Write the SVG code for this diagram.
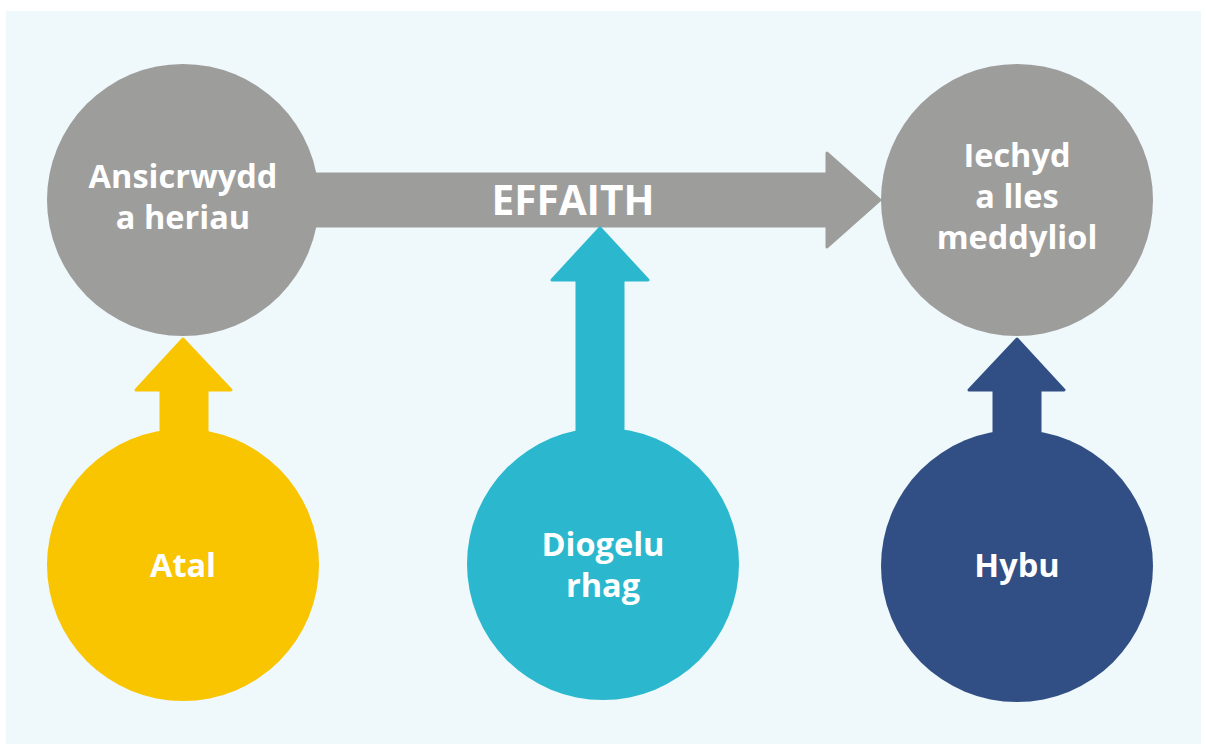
<svg xmlns="http://www.w3.org/2000/svg" width="1206" height="744" viewBox="0 0 1206 744">
<style>
.lbl{font-family:"Open Sans","Noto Sans","Liberation Sans",sans-serif;font-weight:700;fill:#ffffff;text-anchor:middle;font-size:32.5px}
.gray{fill:#9d9d9c}
.yel{fill:#f9c400}
.cyan{fill:#2bb8ce}
.blue{fill:#314f84}
.arr{stroke-linejoin:round;stroke-width:3}
</style>
<rect x="0" y="0" width="1206" height="744" fill="#ffffff"/>
<rect x="6" y="11" width="1195" height="733" fill="#eff8fa"/>
<g id="connectors">
<polygon id="effaith-arrow" class="gray arr" stroke="#9d9d9c" points="310,174 827,174 827,153 880,200 827,247 827,226 310,226"/>
<text class="lbl" x="573" y="215" style="font-size:40.5px">EFFAITH</text>
<polygon id="atal-arrow" class="yel arr" stroke="#f9c400" points="183,339 231,390 207,390 207,440 161,440 161,390 136,390"/>
<polygon id="diogelu-arrow" class="cyan arr" stroke="#2bb8ce" points="600,228 648,280 623,280 623,440 577,440 577,280 552,280"/>
<polygon id="hybu-arrow" class="blue arr" stroke="#314f84" points="1017,339 1064,390 1040,390 1040,440 994,440 994,390 969,390"/>
</g>
<g id="node-ansicrwydd">
<circle class="gray" cx="183" cy="200" r="136"/>
<text class="lbl" x="183" y="188">Ansicrwydd</text>
<text class="lbl" x="183" y="229">a heriau</text>
</g>
<g id="node-iechyd">
<circle class="gray" cx="1017" cy="200" r="136"/>
<text class="lbl" x="1017" y="167">Iechyd</text>
<text class="lbl" x="1017" y="208">a lles</text>
<text class="lbl" x="1017" y="249">meddyliol</text>
</g>
<g id="node-atal">
<circle class="yel" cx="183" cy="565" r="136"/>
<text class="lbl" x="183" y="577">Atal</text>
</g>
<g id="node-diogelu">
<circle class="cyan" cx="603" cy="564" r="136"/>
<text class="lbl" x="603" y="556">Diogelu</text>
<text class="lbl" x="603" y="597">rhag</text>
</g>
<g id="node-hybu">
<circle class="blue" cx="1017" cy="566" r="136"/>
<text class="lbl" x="1017" y="577">Hybu</text>
</g>
</svg>
